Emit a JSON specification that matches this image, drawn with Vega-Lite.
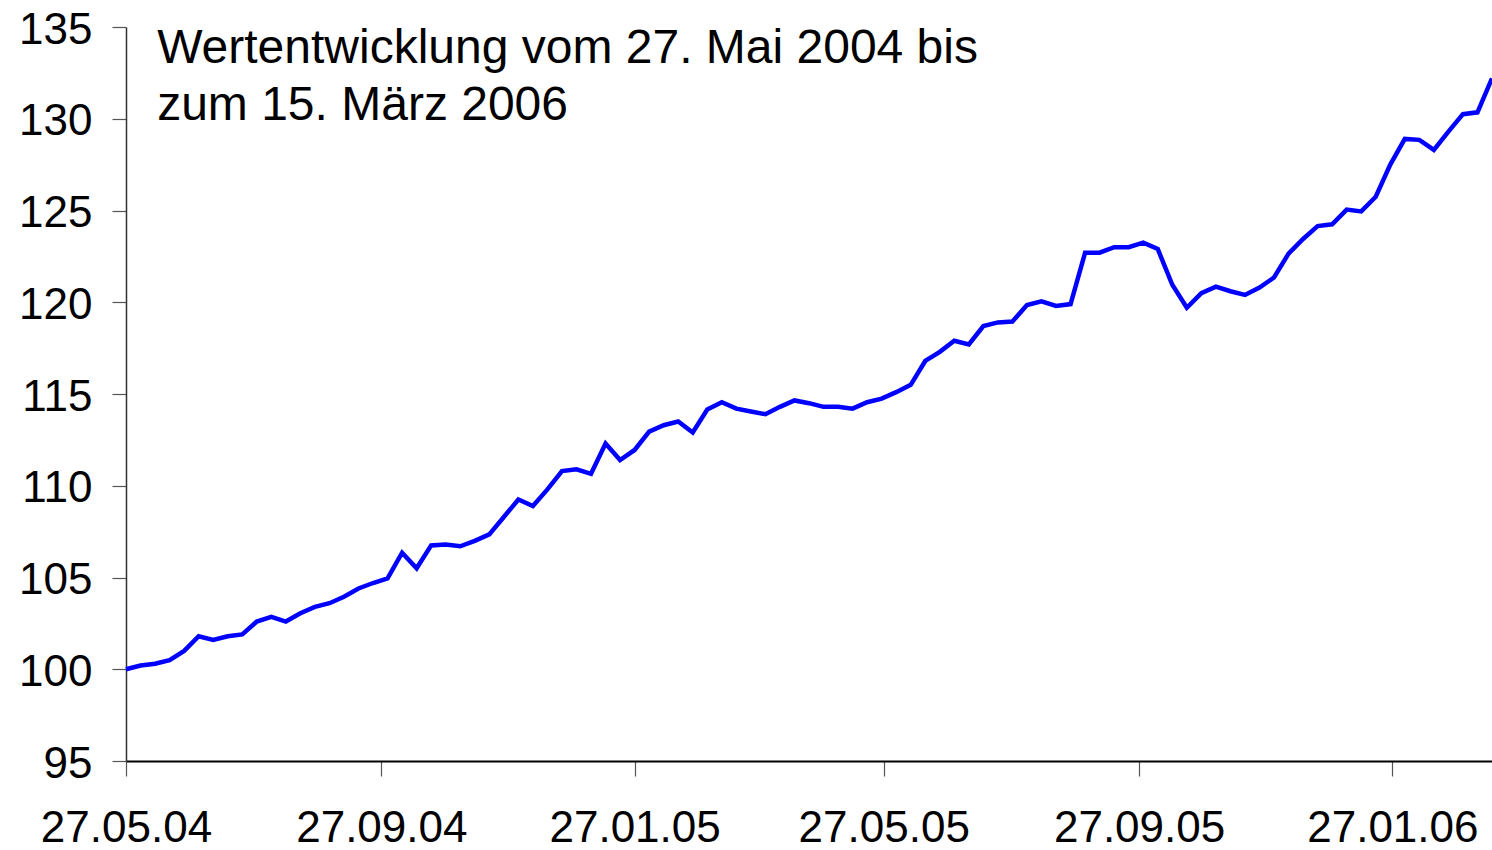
{
  "$schema": "https://vega.github.io/schema/vega-lite/v6.json",
  "width": 1366,
  "height": 734,
  "autosize": {"type": "none"},
  "padding": {"left": 126, "top": 27, "right": 0, "bottom": 89},
  "background": "white",
  "config": {
    "view": {"stroke": null},
    "font": "Liberation Sans",
    "axis": {
      "labelFont": "Liberation Sans",
      "labelColor": "black",
      "grid": false,
      "title": null,
      "domainColor": "#333333",
      "domainWidth": 1.5,
      "tickColor": "#555555",
      "tickWidth": 1.2
    }
  },
  "layer": [
    {
      "data": {
        "values": [
          {"date": "2004-05-27", "value": 100.0},
          {"date": "2004-06-03", "value": 100.2},
          {"date": "2004-06-10", "value": 100.3},
          {"date": "2004-06-17", "value": 100.5},
          {"date": "2004-06-24", "value": 101.0},
          {"date": "2004-07-01", "value": 101.8},
          {"date": "2004-07-08", "value": 101.6},
          {"date": "2004-07-15", "value": 101.8},
          {"date": "2004-07-22", "value": 101.9},
          {"date": "2004-07-29", "value": 102.6},
          {"date": "2004-08-05", "value": 102.85},
          {"date": "2004-08-12", "value": 102.6},
          {"date": "2004-08-19", "value": 103.05},
          {"date": "2004-08-26", "value": 103.4},
          {"date": "2004-09-02", "value": 103.6},
          {"date": "2004-09-09", "value": 103.95},
          {"date": "2004-09-16", "value": 104.4},
          {"date": "2004-09-23", "value": 104.7},
          {"date": "2004-09-30", "value": 104.95},
          {"date": "2004-10-07", "value": 106.35},
          {"date": "2004-10-14", "value": 105.5},
          {"date": "2004-10-21", "value": 106.75},
          {"date": "2004-10-28", "value": 106.8},
          {"date": "2004-11-04", "value": 106.7},
          {"date": "2004-11-11", "value": 107.0},
          {"date": "2004-11-18", "value": 107.35},
          {"date": "2004-11-25", "value": 108.3},
          {"date": "2004-12-02", "value": 109.25},
          {"date": "2004-12-09", "value": 108.9},
          {"date": "2004-12-16", "value": 109.8},
          {"date": "2004-12-23", "value": 110.8},
          {"date": "2004-12-30", "value": 110.9},
          {"date": "2005-01-06", "value": 110.65},
          {"date": "2005-01-13", "value": 112.3},
          {"date": "2005-01-20", "value": 111.4},
          {"date": "2005-01-27", "value": 111.95},
          {"date": "2005-02-03", "value": 112.95},
          {"date": "2005-02-10", "value": 113.3},
          {"date": "2005-02-17", "value": 113.5},
          {"date": "2005-02-24", "value": 112.9},
          {"date": "2005-03-03", "value": 114.15},
          {"date": "2005-03-10", "value": 114.55},
          {"date": "2005-03-17", "value": 114.2},
          {"date": "2005-03-24", "value": 114.05},
          {"date": "2005-03-31", "value": 113.9},
          {"date": "2005-04-07", "value": 114.3},
          {"date": "2005-04-14", "value": 114.65},
          {"date": "2005-04-21", "value": 114.5},
          {"date": "2005-04-28", "value": 114.3},
          {"date": "2005-05-05", "value": 114.3},
          {"date": "2005-05-12", "value": 114.2},
          {"date": "2005-05-19", "value": 114.55},
          {"date": "2005-05-26", "value": 114.75},
          {"date": "2005-06-02", "value": 115.1},
          {"date": "2005-06-09", "value": 115.5},
          {"date": "2005-06-16", "value": 116.8},
          {"date": "2005-06-23", "value": 117.3},
          {"date": "2005-06-30", "value": 117.9},
          {"date": "2005-07-07", "value": 117.7},
          {"date": "2005-07-14", "value": 118.7},
          {"date": "2005-07-21", "value": 118.9},
          {"date": "2005-07-28", "value": 118.95},
          {"date": "2005-08-04", "value": 119.85},
          {"date": "2005-08-11", "value": 120.05},
          {"date": "2005-08-18", "value": 119.8},
          {"date": "2005-08-25", "value": 119.9},
          {"date": "2005-09-01", "value": 122.7},
          {"date": "2005-09-08", "value": 122.7},
          {"date": "2005-09-15", "value": 123.0},
          {"date": "2005-09-22", "value": 123.0},
          {"date": "2005-09-29", "value": 123.25},
          {"date": "2005-10-06", "value": 122.9},
          {"date": "2005-10-13", "value": 120.95},
          {"date": "2005-10-20", "value": 119.7},
          {"date": "2005-10-27", "value": 120.5},
          {"date": "2005-11-03", "value": 120.85},
          {"date": "2005-11-10", "value": 120.6},
          {"date": "2005-11-17", "value": 120.4},
          {"date": "2005-11-24", "value": 120.8},
          {"date": "2005-12-01", "value": 121.35},
          {"date": "2005-12-08", "value": 122.65},
          {"date": "2005-12-15", "value": 123.45},
          {"date": "2005-12-22", "value": 124.15},
          {"date": "2005-12-29", "value": 124.25},
          {"date": "2006-01-05", "value": 125.05},
          {"date": "2006-01-12", "value": 124.95},
          {"date": "2006-01-19", "value": 125.75},
          {"date": "2006-01-26", "value": 127.5},
          {"date": "2006-02-02", "value": 128.9},
          {"date": "2006-02-09", "value": 128.85},
          {"date": "2006-02-16", "value": 128.3},
          {"date": "2006-02-23", "value": 129.3},
          {"date": "2006-03-02", "value": 130.25},
          {"date": "2006-03-09", "value": 130.35},
          {"date": "2006-03-16", "value": 132.2}
        ]
      },
      "mark": {"type": "line", "color": "#0000FF", "strokeWidth": 4.5, "strokeJoin": "miter", "clip": false},
      "encoding": {
        "x": {
          "field": "date",
          "type": "temporal",
          "scale": {
            "type": "utc",
            "domain": [
              {"year": 2004, "month": 5, "date": 27, "utc": true},
              {"year": 2006, "month": 3, "date": 16, "utc": true}
            ]
          },
          "axis": {
            "values": [
              {"year": 2004, "month": 5, "date": 27, "utc": true},
              {"year": 2004, "month": 9, "date": 27, "utc": true},
              {"year": 2005, "month": 1, "date": 27, "utc": true},
              {"year": 2005, "month": 5, "date": 27, "utc": true},
              {"year": 2005, "month": 9, "date": 27, "utc": true},
              {"year": 2006, "month": 1, "date": 27, "utc": true}
            ],
            "labelExpr": "utcFormat(datum.value, '%d.%m.%y')",
            "labelFontSize": 44,
            "labelPadding": 30,
            "tickSize": 15,
            "labelFlush": false,
            "labelOverlap": false,
            "domainColor": "#000000",
            "domainWidth": 2
          }
        },
        "y": {
          "field": "value",
          "type": "quantitative",
          "scale": {"domain": [95, 135], "nice": false, "zero": false},
          "axis": {
            "values": [95, 100, 105, 110, 115, 120, 125, 130, 135],
            "labelFontSize": 44,
            "labelPadding": 20,
            "labelOffset": 3,
            "tickSize": 14,
            "labelFlush": false,
            "labelOverlap": false
          }
        }
      }
    },
    {
      "data": {"values": [{"label": "Wertentwicklung vom 27. Mai 2004 bis\nzum 15. März 2006"}]},
      "mark": {
        "type": "text",
        "align": "left",
        "baseline": "alphabetic",
        "font": "Liberation Sans",
        "fontSize": 48,
        "lineHeight": 57,
        "lineBreak": "\n",
        "color": "black"
      },
      "encoding": {
        "text": {"field": "label"},
        "x": {"datum": {"year": 2004, "month": 6, "date": 11, "utc": true}, "type": "temporal"},
        "y": {"datum": 133.04, "type": "quantitative"}
      }
    }
  ]
}
